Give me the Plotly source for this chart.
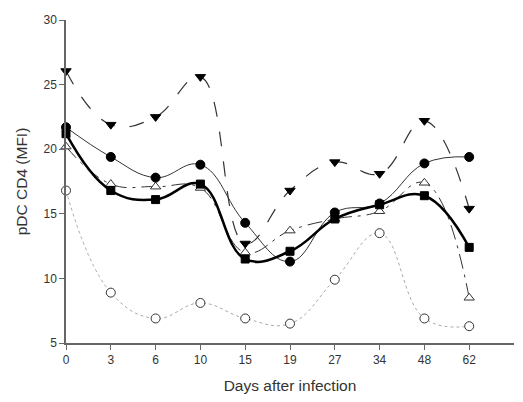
import plotly.graph_objects as go

days = ["0", "3", "6", "10", "15", "19", "27", "34", "48", "62"]
tri_down = [26.05, 21.9, 22.5, 25.6, 12.7, 16.8, 19.0, 18.1, 22.2, 15.4]
circ_fill = [21.7, 19.4, 17.8, 18.8, 14.3, 11.3, 15.1, 15.8, 18.9, 19.4]
tri_open = [20.2, 17.3, 17.1, 17.0, 12.0, 13.7, 14.6, 15.2, 17.4, 8.5]
square = [21.2, 16.8, 16.1, 17.3, 11.5, 12.1, 14.6, 15.7, 16.4, 12.4]
circ_open = [16.8, 8.9, 6.9, 8.1, 6.9, 6.5, 9.9, 13.5, 6.9, 6.3]

xi = list(range(len(days)))

fig = go.Figure()

def add(y, symbol, dash, width, lcolor, mfill, mline, size=9):
    fig.add_trace(go.Scatter(
        x=xi, y=y, mode="lines+markers", cliponaxis=False,
        line=dict(shape="spline", smoothing=1.2, dash=dash, width=width, color=lcolor),
        marker=dict(symbol=symbol, size=size, color=mfill, line=dict(color=mline, width=1)),
        showlegend=False,
    ))

add(circ_open, "circle", "dot", 1, "#aaaaaa", "white", "#333333")
add(tri_open, "triangle-up", "longdashdot", 1, "#333333", "white", "#333333")
add(circ_fill, "circle", "solid", 1, "#333333", "black", "black")
add(square, "square", "solid", 2.5, "black", "black", "black", 8)
add(tri_down, "triangle-down", "longdash", 1.2, "#333333", "black", "black")

fig.update_layout(
    width=515, height=394,
    margin=dict(l=58, r=9, t=12, b=59),
    plot_bgcolor="white", paper_bgcolor="white",
    font=dict(family="Liberation Sans, Arial, sans-serif", size=12, color="#333333"),
)
fig.update_xaxes(
    range=[0, 10], tickvals=xi, ticktext=days, showgrid=False, zeroline=False,
    showline=True, linecolor="#666666", linewidth=1.5, ticks="outside", ticklen=5,
    tickcolor="#666666", automargin=False,
    title=dict(text="Days after infection", font=dict(size=15.5), standoff=14),
)
fig.update_yaxes(
    range=[5, 30], tickvals=[5, 10, 15, 20, 25, 30], showgrid=False, zeroline=False,
    showline=True, linecolor="#666666", linewidth=1.5, ticks="outside", ticklen=5,
    tickcolor="#666666", automargin=False,
    title=dict(text="pDC CD4 (MFI)", font=dict(size=15.5), standoff=12),
)

fig.write_html("out.html")
